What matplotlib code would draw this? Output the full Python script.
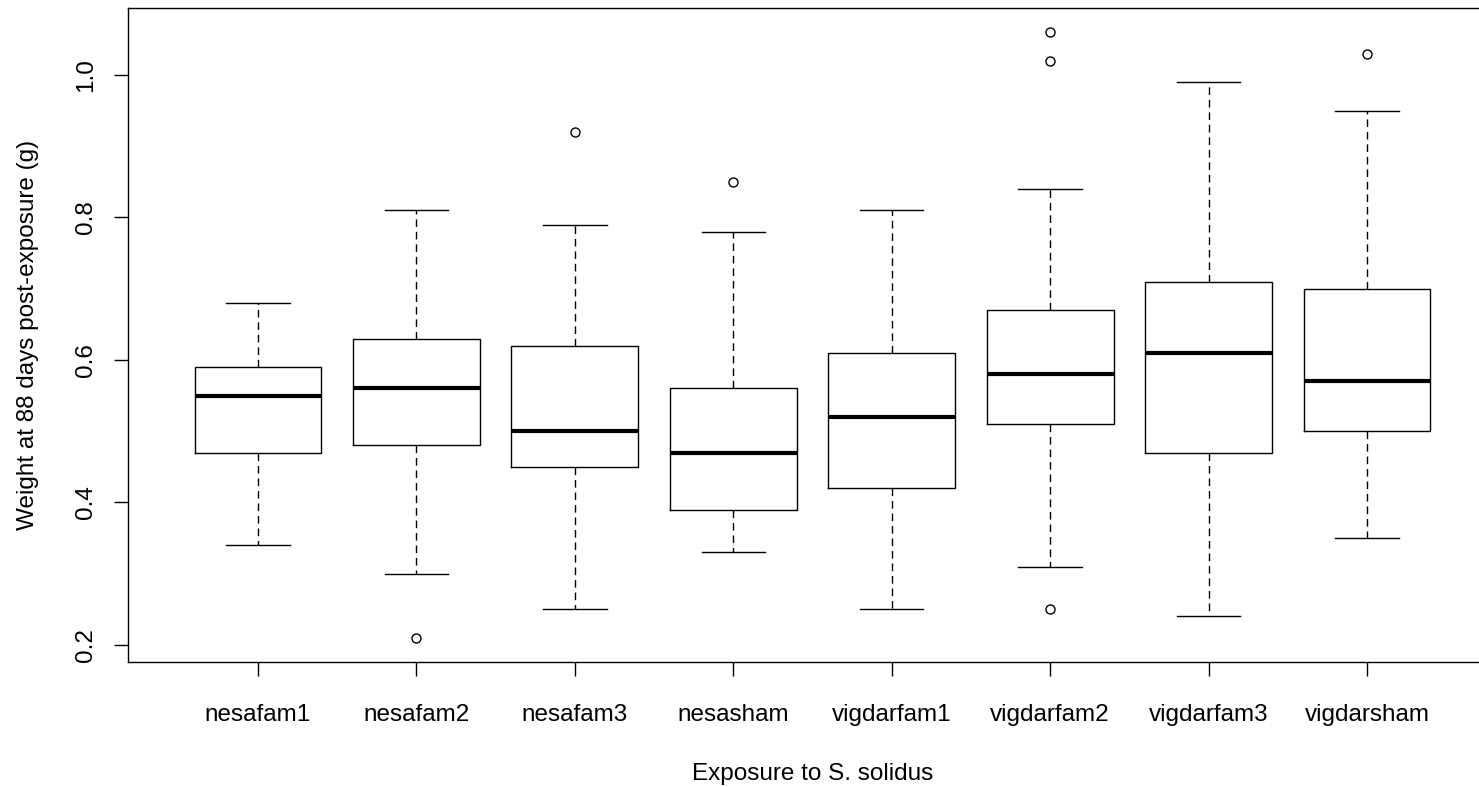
import matplotlib
matplotlib.use("Agg")
import matplotlib.pyplot as plt

plt.rcParams["font.family"] = ["Liberation Sans", "DejaVu Sans"]

groups = ["nesafam1", "nesafam2", "nesafam3", "nesasham",
          "vigdarfam1", "vigdarfam2", "vigdarfam3", "vigdarsham"]
whisker_low = [0.34, 0.30, 0.25, 0.33, 0.25, 0.31, 0.24, 0.35]
q1 = [0.47, 0.48, 0.45, 0.39, 0.42, 0.51, 0.47, 0.50]
medians = [0.55, 0.56, 0.50, 0.47, 0.52, 0.58, 0.61, 0.57]
q3 = [0.59, 0.63, 0.62, 0.56, 0.61, 0.67, 0.71, 0.70]
whisker_high = [0.68, 0.81, 0.79, 0.78, 0.81, 0.84, 0.99, 0.95]
outliers = [[], [0.21], [0.92], [0.85], [], [1.06, 1.02, 0.25], [], [1.03]]

stats = []
for i, name in enumerate(groups):
    stats.append({"label": name, "whislo": whisker_low[i], "q1": q1[i],
                  "med": medians[i], "q3": q3[i], "whishi": whisker_high[i],
                  "fliers": outliers[i]})

fig = plt.figure(figsize=(14.79, 7.87), dpi=100)
# the original is cropped on the right, so the frame runs past the edge
ax = fig.add_axes([128 / 1479, 125 / 787, (1497 - 128) / 1479, (662 - 8) / 787])

ax.bxp(stats, positions=range(1, 9), widths=0.8,
       boxprops=dict(color="black", linewidth=1.0),
       medianprops=dict(color="black", linewidth=3.0, solid_capstyle="butt"),
       whiskerprops=dict(color="black", linewidth=1.0, linestyle=(0, (5.5, 3.5))),
       capprops=dict(color="black", linewidth=1.0),
       capwidths=0.4,
       flierprops=dict(marker="o", markersize=6.5, markerfacecolor="none",
                       markeredgecolor="black", markeredgewidth=1.0))

# R-style ranges: data range extended by 4%
ax.set_xlim(0.18, 8.82)
ax.set_ylim(0.176, 1.094)
ax.set_yticks([0.2, 0.4, 0.6, 0.8, 1.0])
ax.set_yticklabels(["0.2", "0.4", "0.6", "0.8", "1.0"], rotation=90, va="center")
ax.set_xticks(range(1, 9))
ax.set_xticklabels(groups)

ax.tick_params(axis="both", length=10, width=1.0, labelsize=17.5, colors="black")
ax.tick_params(axis="x", pad=20)
ax.tick_params(axis="y", pad=12)
for sp in ax.spines.values():
    sp.set_linewidth(1.0)
    sp.set_color("black")

ax.set_xlabel("Exposure to S. solidus", fontsize=17.5, labelpad=27)
ax.set_ylabel("Weight at 88 days post-exposure (g)", fontsize=17.5, labelpad=26)

fig.savefig("out.png", dpi=100)
